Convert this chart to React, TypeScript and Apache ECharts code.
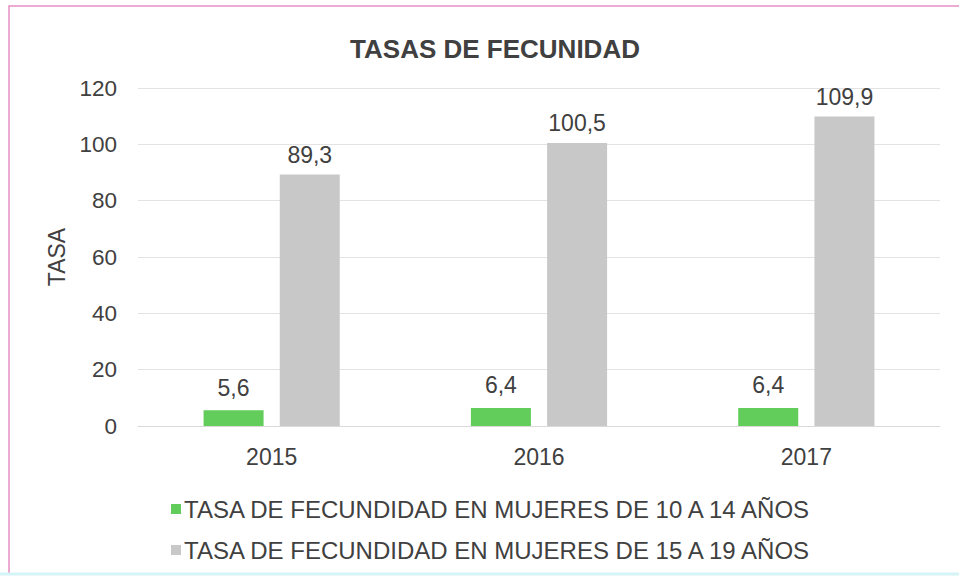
import React, { useEffect, useRef } from "react";
import * as echarts from "echarts";

const categories = ["2015", "2016", "2017"];
const series1Name = "TASA DE FECUNDIDAD EN MUJERES DE 10 A 14 AÑOS";
const series2Name = "TASA DE FECUNDIDAD EN MUJERES DE 15 A 19 AÑOS";
const series1Values = [5.6, 6.4, 6.4];
const series2Values = [89.3, 100.5, 109.9];
const titleText = "TASAS DE FECUNIDAD";
const yAxisName = "TASA";

const FONT = "'Liberation Sans', Arial, sans-serif";
const TXT = "#404040";

const fmt = (v: number) => v.toFixed(1).replace(".", ",");

export default function App() {
  const ref = useRef<HTMLDivElement>(null);
  useEffect(() => {
    if (!ref.current) return;
    const chart = echarts.init(ref.current, null, { renderer: "svg" });
    chart.setOption({
      animation: false,
      backgroundColor: "#ffffff",
      textStyle: { fontFamily: FONT },
      title: {
        text: titleText,
        left: 490,
        top: 31,
        textAlign: "center",
        textStyle: { fontFamily: FONT, fontSize: 26, fontWeight: "bold", color: TXT },
      },
      graphic: [
        {
          type: "rect",
          shape: { x: 9, y: 6, width: 960, height: 568 },
          style: { fill: "none", stroke: "#e590c4", lineWidth: 1.5 },
          z: 100,
        },
        {
          type: "line",
          shape: { x1: 0, y1: 574, x2: 959, y2: 574 },
          style: { stroke: "#d4f4f6", lineWidth: 3 },
          z: 101,
        },
      ],
      legend: {
        orient: "vertical",
        left: 166,
        top: 492,
        itemWidth: 10,
        itemHeight: 10,
        itemGap: 17,
        icon: "rect",
        textStyle: { fontFamily: FONT, fontSize: 24, color: TXT, padding: [0, 0, 0, -2] },
        data: [series1Name, series2Name],
      },
      grid: { left: 138, right: 19, top: 88, bottom: 153 },
      xAxis: {
        type: "category",
        data: categories,
        axisLine: { show: true, lineStyle: { color: "#d9d9d9" } },
        axisTick: { show: false },
        axisLabel: { fontFamily: FONT, fontSize: 23, color: TXT, margin: 19 },
      },
      yAxis: {
        type: "value",
        min: 0,
        max: 120,
        interval: 20,
        name: yAxisName,
        nameLocation: "middle",
        nameGap: 70,
        nameRotate: 90,
        nameTextStyle: { fontFamily: FONT, fontSize: 23, color: TXT },
        axisLine: { show: false },
        axisTick: { show: false },
        axisLabel: { fontFamily: FONT, fontSize: 22.5, color: TXT, margin: 21 },
        splitLine: { lineStyle: { color: "#e3e3e3", width: 1 } },
      },
      series: [
        {
          name: series1Name,
          type: "bar",
          data: series1Values,
          barWidth: 60,
          barGap: "27%",
          itemStyle: { color: "#62cd5a" },
          label: {
            show: true,
            position: "top",
            distance: 11,
            formatter: (p: any) => fmt(p.value),
            fontFamily: FONT,
            fontSize: 23,
            color: TXT,
          },
        },
        {
          name: series2Name,
          type: "bar",
          data: series2Values,
          barWidth: 60,
          itemStyle: { color: "#c8c8c8" },
          label: {
            show: true,
            position: "top",
            distance: 8,
            formatter: (p: any) => fmt(p.value),
            fontFamily: FONT,
            fontSize: 23,
            color: TXT,
          },
        },
      ],
    });
    return () => chart.dispose();
  }, []);
  return (
    <div
      ref={ref}
      style={{ position: "fixed", left: 0, top: 0, width: 959, height: 579 }}
    />
  );
}
